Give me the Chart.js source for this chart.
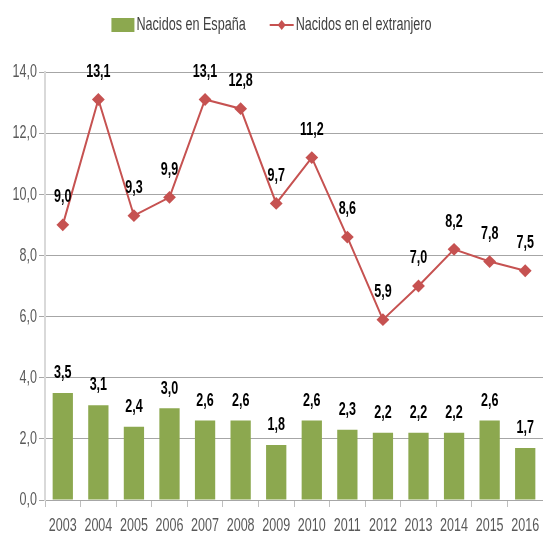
<!DOCTYPE html>
<html>
<head>
<meta charset="utf-8">
<script src="https://cdn.jsdelivr.net/npm/chart.js@4/dist/chart.umd.min.js"></script>
<style>
  html, body { margin: 0; padding: 0; background: #fff; }
  #wrap { width: 543px; height: 539px; }
</style>
</head>
<body>
<div id="wrap"><canvas id="chart" width="543" height="539"></canvas></div>
<script>
// Chart data
var years = ['2003', '2004', '2005', '2006', '2007', '2008', '2009', '2010', '2011', '2012', '2013', '2014', '2015', '2016'];
var nacidosEspana = [3.5, 3.1, 2.4, 3.0, 2.6, 2.6, 1.8, 2.6, 2.3, 2.2, 2.2, 2.2, 2.6, 1.7];
var nacidosExtranjero = [9.0, 13.1, 9.3, 9.9, 13.1, 12.8, 9.7, 11.2, 8.6, 5.9, 7.0, 8.2, 7.8, 7.5];
var yTicks = [0, 2, 4, 6, 8, 10, 12, 14];

var GREEN = '#8CA84F';
var RED = '#C65251';
var FONT = '"Liberation Sans", Arial, sans-serif';
// the original type is very narrow, so text is squeezed sideways
var SQUEEZE = 0.66;

function comma(v) {
  return v.toFixed(1).replace('.', ',');
}

function narrowText(ctx, text, x, y, align, sx) {
  ctx.save();
  ctx.translate(x, y);
  ctx.scale(sx || SQUEEZE, 1);
  ctx.textAlign = align;
  ctx.fillText(text, 0, 0);
  ctx.restore();
}

// all the text of the chart: legend, axis labels, value labels
var textLayer = {
  id: 'textLayer',
  afterDraw: function(chart) {
    var ctx = chart.ctx;
    var xs = chart.scales.x, ys = chart.scales.y;
    ctx.save();
    ctx.textBaseline = 'middle';

    // y axis labels
    ctx.fillStyle = '#595959';
    ctx.font = '19px ' + FONT;
    yTicks.forEach(function(v) {
      narrowText(ctx, comma(v), xs.left - 8, ys.getPixelForValue(v), 'right');
    });

    // x axis labels
    chart.data.labels.forEach(function(lab, i) {
      narrowText(ctx, lab, xs.getPixelForTick(i), ys.bottom + 26, 'center');
    });

    // value labels
    ctx.fillStyle = '#000';
    ctx.font = 'bold 19px ' + FONT;
    chart.data.datasets.forEach(function(ds, i) {
      var meta = chart.getDatasetMeta(i);
      var gap = ds.type === 'line' ? 28 : 20;
      meta.data.forEach(function(el, j) {
        narrowText(ctx, comma(ds.data[j]), el.x, el.y - gap, 'center');
      });
    });

    // legend: bars first, then the line
    var lsx = 0.7;
    ctx.font = '18px ' + FONT;
    var barDs = chart.data.datasets[1], lineDs = chart.data.datasets[0];
    var w1 = ctx.measureText(barDs.label).width * lsx;
    var w2 = ctx.measureText(lineDs.label).width * lsx;
    var total = 23 + 2 + w1 + 24 + 24 + 2 + w2;
    var x = chart.width / 2 - total / 2;
    var y = 25;
    ctx.fillStyle = GREEN;
    ctx.fillRect(x, y - 7, 23, 14);
    x += 25;
    ctx.fillStyle = '#404040';
    narrowText(ctx, barDs.label, x, y, 'left', lsx);
    x += w1 + 24;
    ctx.strokeStyle = RED;
    ctx.lineWidth = 2;
    ctx.beginPath(); ctx.moveTo(x, y); ctx.lineTo(x + 24, y); ctx.stroke();
    ctx.fillStyle = RED;
    ctx.beginPath();
    ctx.moveTo(x + 12, y - 5); ctx.lineTo(x + 16, y); ctx.lineTo(x + 12, y + 5); ctx.lineTo(x + 8, y);
    ctx.closePath(); ctx.fill();
    x += 26;
    ctx.fillStyle = '#404040';
    narrowText(ctx, lineDs.label, x, y, 'left', lsx);

    ctx.restore();
  }
};

var chartConfig = {
  data: {
    labels: years,
    datasets: [
      {
        type: 'line',
        label: 'Nacidos en el extranjero',
        data: nacidosExtranjero,
        borderColor: RED,
        backgroundColor: RED,
        borderWidth: 2,
        pointStyle: 'rectRot',
        pointRadius: 5,
        pointBackgroundColor: RED,
        pointBorderColor: RED,
        tension: 0,
        order: 0
      },
      {
        type: 'bar',
        label: 'Nacidos en España',
        data: nacidosEspana,
        backgroundColor: GREEN,
        categoryPercentage: 1.0,
        barPercentage: 0.57,
        order: 1
      }
    ]
  },
  options: {
    responsive: false,
    animation: false,
    layout: { autoPadding: false, padding: { top: 72, right: -3, left: 0, bottom: 32 } },
    plugins: {
      tooltip: { enabled: false },
      legend: { display: false }
    },
    scales: {
      x: {
        offset: true,
        grid: {
          display: true,
          offset: true,
          drawOnChartArea: false,
          drawTicks: true,
          tickLength: 7,
          color: '#BFBFBF'
        },
        border: { color: '#A6A6A6' },
        ticks: { display: false, autoSkip: false }
      },
      y: {
        min: 0,
        max: 14,
        afterBuildTicks: function(axis) {
          axis.ticks = yTicks.map(function(v) { return { value: v }; });
        },
        afterFit: function(axis) { axis.width = 45; },
        grid: {
          color: '#A6A6A6',
          drawTicks: true,
          tickLength: 6
        },
        border: { color: '#D9D9D9', width: 2 },
        ticks: { display: false }
      }
    }
  },
  plugins: [textLayer]
};

var chart = new Chart(document.getElementById('chart'), chartConfig);
</script>
</body>
</html>
